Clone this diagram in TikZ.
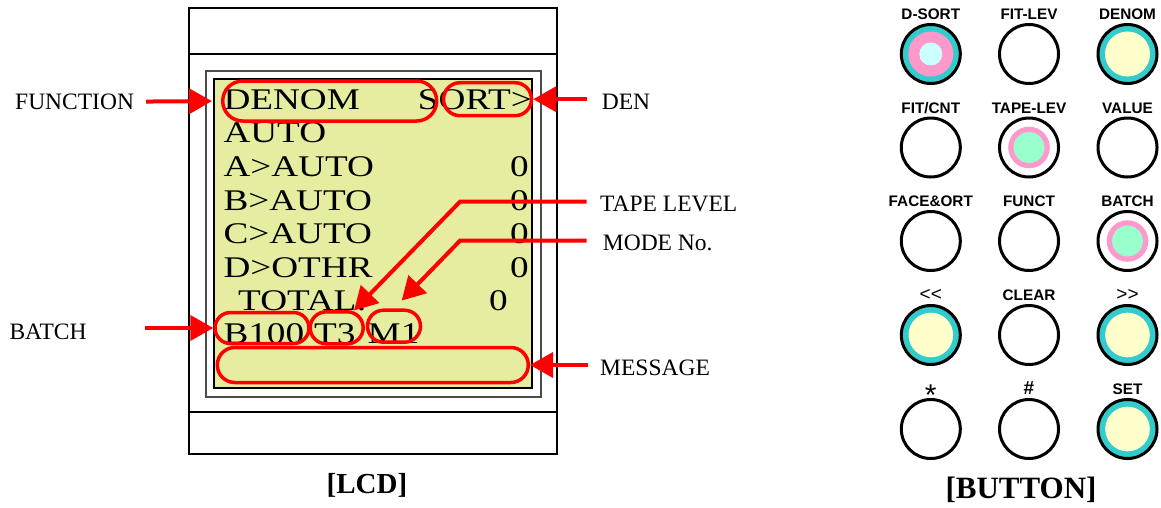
\documentclass[tikz,border=0pt]{standalone}
\usepackage{fontspec}
\setmainfont{Liberation Serif}
\newfontfamily\lcdfont[FakeStretch=1.24]{Liberation Serif}
\newfontfamily\keyfont{Liberation Sans}
\usetikzlibrary{arrows.meta,shapes.misc}

\definecolor{lcdgreen}{RGB}{230,237,160}
\definecolor{keyteal}{RGB}{51,204,204}
\definecolor{keypink}{RGB}{255,153,204}
\definecolor{keycyan}{RGB}{204,255,255}
\definecolor{keyyellow}{RGB}{255,255,204}
\definecolor{keymint}{RGB}{153,255,204}

\tikzset{
  lcdtxt/.style={font=\lcdfont\fontsize{30}{30}\selectfont, inner sep=0pt, anchor=base west},
  lcdnum/.style={lcdtxt, anchor=base east},
  callout/.style={font=\fontsize{23.5}{23.5}\selectfont, inner sep=0pt, anchor=base west},
  pill/.style={rounded rectangle, draw=red, line width=3.5pt, inner sep=0pt},
  redarr/.style={draw=red, line width=4pt, -{Triangle[length=23pt,width=25pt]}},
  key/.style={circle, draw=black, line width=3pt, minimum size=59pt, inner sep=0pt},
  keylbl/.style={font=\keyfont\bfseries\fontsize{15.3}{15.3}\selectfont, inner sep=0pt, anchor=base},
  title/.style={font=\bfseries\fontsize{29}{29}\selectfont, inner sep=0pt, anchor=base}
}

\begin{document}
\begin{tikzpicture}[x=1pt,y=-1pt]
    \useasboundingbox (0,0) rectangle (1161,507);

    % lcd housing
    \draw[line width=1.3pt] (189,8) rectangle (557,454);
    \draw[line width=1.3pt] (189,54) -- (557,54);
    \draw[line width=1.3pt] (189,412) -- (557,412);
    \draw[line width=1.8pt, gray!60!black] (206,70.7) rectangle (541,396.7);
    \draw[line width=1.8pt, fill=lcdgreen] (214.3,79) rectangle (532.3,388); % screen

    % screen text
    \node[lcdtxt] (r1) at (223.3,109) {DENOM};
    \node[lcdnum] (r1b) at (532,109) {SORT>};
    \node[lcdtxt] (r2) at (223.3,142.7) {AUTO};
    \node[lcdtxt] (r3) at (223.3,176) {A>AUTO};
    \node[lcdnum] (n3) at (529,176) {0};
    \node[lcdtxt] (r4) at (223.3,210) {B>AUTO};
    \node[lcdnum] (n4) at (529,210) {0};
    \node[lcdtxt] (r5) at (223.3,243.5) {C>AUTO};
    \node[lcdnum] (n5) at (529,243.5) {0};
    \node[lcdtxt] (r6) at (223.3,277) {D>OTHR};
    \node[lcdnum] (n6) at (529,277) {0};
    \node[lcdtxt] (r7) at (238,310.5) {TOTAL:};
    \node[lcdnum] (n7) at (508,310.5) {0};
    \node[lcdtxt] (r8) at (223.3,343.5) {B100};
    \node[lcdtxt] (r8b) at (314,343.5) {T3};
    \node[lcdtxt] (r8c) at (367.5,343.5) {M1};

    % marked fields
    \node[pill, minimum width=214pt, minimum height=40pt] (pFunc) at (329.7,101) {};
    \node[pill, minimum width=88pt, minimum height=33pt] (pSort) at (487.5,99.2) {};
    \node[pill, minimum width=94pt, minimum height=31pt] (pBatch) at (262,328) {};
    \node[pill, minimum width=53pt, minimum height=32pt] (pTape) at (336.7,327.8) {};
    \node[pill, minimum width=53pt, minimum height=32pt] (pMode) at (394,326.2) {};
    \node[pill, minimum width=311pt, minimum height=35pt] (pMsg) at (372.8,365) {};

    % callouts
    \node[callout] (lFunc) at (15,109.3) {FUNCTION};
    \node[callout] (lBatch) at (9.3,339.3) {BATCH};
    \node[callout] (lDen) at (601.7,109.3) {DEN};
    \node[callout] (lTape) at (600,211.7) {TAPE LEVEL};
    \node[callout] (lMode) at (602.7,250) {MODE No.};
    \node[callout] (lMsg) at (600,375) {MESSAGE};
    \coordinate (kTape) at (460,201.7);
    \coordinate (kMode) at (460,240.7);

    \draw[redarr, shorten <=12pt, shorten >=9pt] (lFunc.east) -- (pFunc.west);
    \draw[redarr, shorten <=58pt] (lBatch.east |- pBatch.west) -- (pBatch.west);
    \draw[redarr, shorten <=15pt] (lDen.west |- pSort.east) -- (pSort.east);
    \draw[redarr, shorten <=12pt] (lMsg.west |- pMsg.east) -- (pMsg.east);
    \draw[redarr, shorten <=13.3pt, shorten >=1pt] (lTape.west |- kTape) -- (kTape) -- (pTape.45);
    \draw[redarr, shorten <=16pt, shorten >=11pt] (lMode.west |- kMode) -- (kMode) -- (pMode.north);

    % buttons
    \foreach \nm/\lb/\cx/\cy/\fc in {dsort/D-SORT/930.8/54/keyteal, fitlev/FIT-LEV/1029/54/white, denom/DENOM/1127.5/54/keyteal,
        fitcnt/{FIT/CNT}/930.8/147.5/white, tapelev/TAPE-LEV/1029/147.5/white, value/VALUE/1127.5/147.5/white,
        face/FACE\&ORT/930.8/241/white, funct/FUNCT/1029/241/white, batch/BATCH/1127.5/241/white,
        prev/{\mdseries\fontsize{19}{19}\selectfont<<}/930.8/335/keyteal, clear/CLEAR/1029/335/white,
        next/{\mdseries\fontsize{19}{19}\selectfont>>}/1127.5/335/keyteal,
        star/{}/930.8/429/white, hash/{\fontsize{19}{19}\selectfont\#}/1029/429/white, set/SET/1127.5/429/keyteal}{
        \node[key, fill=\fc] (k\nm) at (\cx,\cy) {};
        \node[keylbl] (t\nm) at (\cx,\cy-34.5) {\lb};
    }
    \node[keylbl, font=\keyfont\fontsize{30}{30}\selectfont] (tstar2) at (930.8,405.4) {*};

    \fill[keypink] (kdsort) circle (22.5);
    \fill[keycyan] (kdsort) circle (11.5);
    \fill[keyyellow] (kdenom) circle (22.5);
    \fill[keypink] (ktapelev) circle (20.8);
    \fill[keymint] (ktapelev) circle (15.4);
    \fill[keypink] (kbatch) circle (20.8);
    \fill[keymint] (kbatch) circle (15.4);
    \fill[keyyellow] (kprev) circle (22.3);
    \fill[keyyellow] (knext) circle (22.3);
    \fill[keyyellow] (kset) circle (22.3);

    % captions
    \node[title] (capLcd) at (367,493.3) {[LCD]};
    \node[title, font=\bfseries\fontsize{31}{31}\selectfont] (capKey) at (1021,498.3) {[BUTTON]};
\end{tikzpicture}
\end{document}
